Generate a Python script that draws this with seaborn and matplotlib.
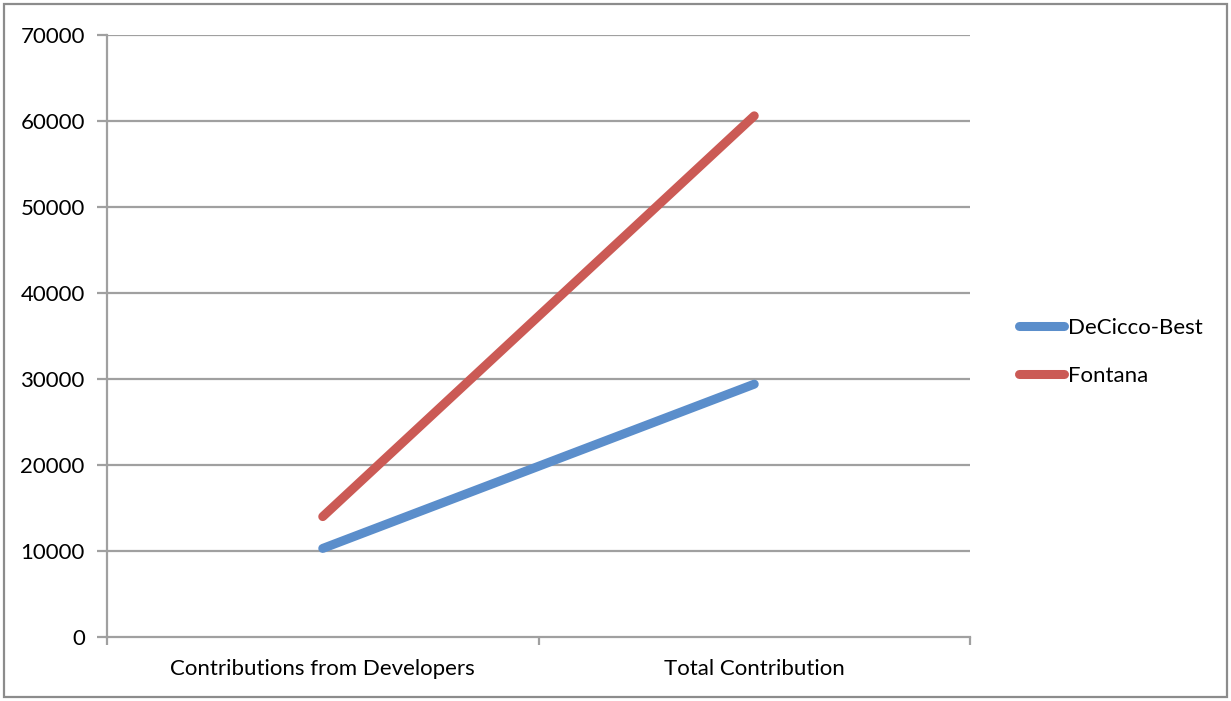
import matplotlib
matplotlib.use("Agg")
import matplotlib.pyplot as plt
import seaborn as sns
import pandas as pd

categories = ["Contributions from Developers", "Total Contribution"]
decicco_best = [10300, 29400]
fontana = [14000, 60600]
series_names = ["DeCicco-Best", "Fontana"]
y_ticks = [0, 10000, 20000, 30000, 40000, 50000, 60000, 70000]

sns.set_theme(style="white")
plt.rcParams["font.family"] = ["Lato", "DejaVu Sans"]
plt.rcParams["text.color"] = "black"
plt.rcParams["xtick.color"] = "black"
plt.rcParams["ytick.color"] = "black"

df = pd.DataFrame({
    "pos": list(range(len(categories))) * 2,
    "value": decicco_best + fontana,
    "series": [series_names[0]] * len(categories) + [series_names[1]] * len(categories),
})

fig = plt.figure(figsize=(12.31, 7.01), dpi=100)
ax = fig.add_axes([107 / 1231, 1 - 637 / 701, (970 - 107) / 1231, (637 - 35) / 701])

grid_c = "#a0a0a0"
for t in y_ticks[1:]:
    ax.axhline(t, color=grid_c, lw=1.6, zorder=0)

palette = {"DeCicco-Best": "#5b8ecb", "Fontana": "#cb5a55"}
sns.lineplot(data=df, x="pos", y="value", hue="series", palette=palette,
             lw=6.5, solid_capstyle="round", ax=ax, zorder=3)

fs = 16
ax.set_xlim(-0.5, len(categories) - 0.5)
ax.set_ylim(0, 70000)
ax.set_yticks(y_ticks)
ax.set_yticklabels([str(t) for t in y_ticks], fontsize=fs)
ax.set_xticks([-0.5, 0.5, 1.5])
ax.set_xticklabels([])
ax.set_xticks(range(len(categories)), minor=True)
ax.set_xticklabels(categories, minor=True, fontsize=fs)
ax.tick_params(axis="x", which="major", bottom=True, length=6, width=1.6, color=grid_c, direction="out")
ax.tick_params(axis="x", which="minor", bottom=False, length=0, pad=16, labelcolor="black")
ax.tick_params(axis="y", left=True, length=7, width=1.6, color=grid_c, direction="out", pad=9,
               labelcolor="black")
ax.set_xlabel("")
ax.set_ylabel("")

for s in ["top", "right"]:
    ax.spines[s].set_visible(False)
for s in ["left", "bottom"]:
    ax.spines[s].set_color(grid_c)
    ax.spines[s].set_linewidth(1.6)

handles, labels = ax.get_legend_handles_labels()
for h in handles:
    h.set_linewidth(6.5)
    h.set_solid_capstyle("round")
leg = ax.legend(handles, labels, loc="center left", bbox_to_anchor=(1008 / 1231, 1 - 352 / 701),
                bbox_transform=fig.transFigure, frameon=False, fontsize=fs, borderpad=0,
                handlelength=2.0, handletextpad=0.2, labelspacing=1.25)
for txt in leg.get_texts():
    txt.set_color("black")

fig.patches.append(plt.Rectangle((4 / 1231, 4 / 701), 1223 / 1231, 693 / 701,
                                 transform=fig.transFigure, fill=False,
                                 edgecolor="#8c8c8c", lw=1.6))

fig.savefig("out.png", dpi=100)
